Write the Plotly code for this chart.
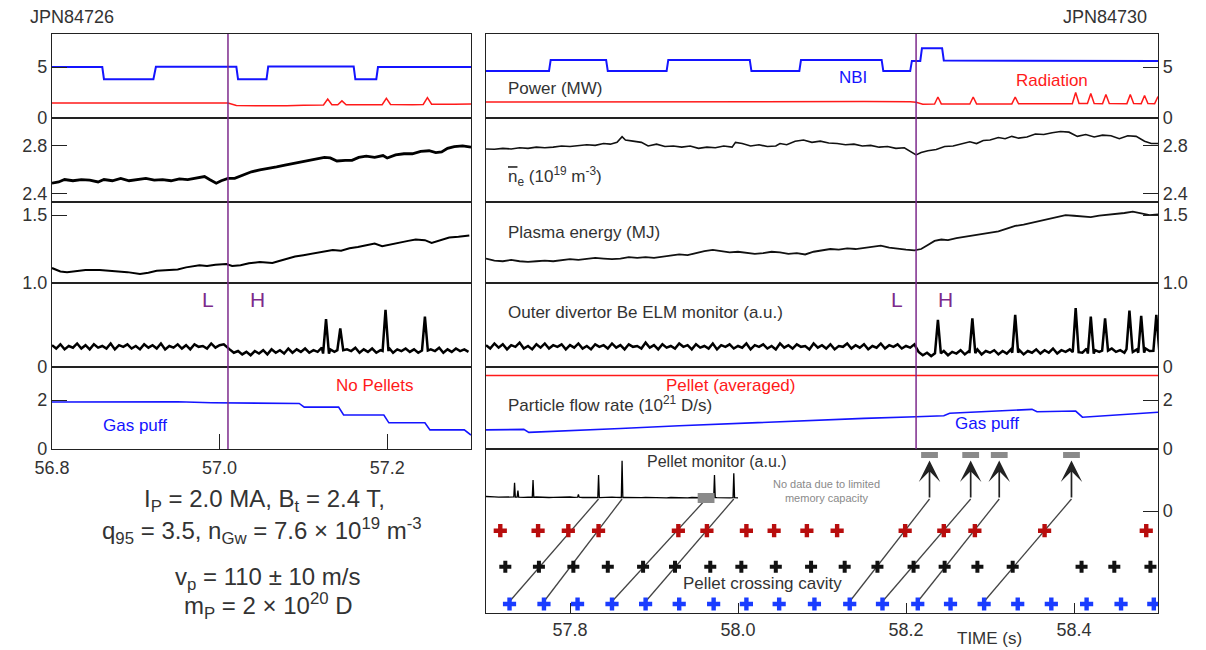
import numpy as np
import plotly.graph_objects as go

FONT = "Liberation Sans, Arial, Helvetica, sans-serif"
INK = "#222222"
TXT = "#333333"
BLUE = "#1414ff"
RED = "#ff1a1a"
PURPLE = "#7d2a8c"
PELLET_RED = "#b80d0d"
PELLET_BLUE = "#1a3cff"
GREY_BOX = "#8a8a8a"

# ------------------------------------------------------------------
# Shot JPN84726 (left column), time in s
# ------------------------------------------------------------------
lh_time_l = 57.01

nbi_l_t = [56.800, 56.860, 56.862, 56.921, 56.924, 57.020, 57.022, 57.056,
           57.058, 57.160, 57.162, 57.187, 57.189, 57.300]
nbi_l_v = [5.0, 5.0, 3.8, 3.8, 5.02, 5.02, 3.8, 3.8, 5.05, 5.05, 3.8, 3.8, 5.0, 5.0]

rad_l_t = [56.800, 56.850, 56.900, 56.950, 57.000, 57.010, 57.020, 57.050, 57.080,
           57.100, 57.124, 57.129, 57.134, 57.141, 57.146, 57.151, 57.180, 57.194,
           57.199, 57.204, 57.230, 57.243, 57.248, 57.253, 57.280, 57.300]
rad_l_v = [1.47, 1.45, 1.47, 1.46, 1.48, 1.47, 1.22, 1.18, 1.20, 1.24, 1.27, 1.85,
           1.30, 1.29, 1.68, 1.29, 1.28, 1.31, 1.92, 1.33, 1.31, 1.33, 2.00, 1.35,
           1.36, 1.37]

ne_l_t = [56.800, 56.808, 56.815, 56.825, 56.835, 56.845, 56.855, 56.862, 56.872,
          56.882, 56.892, 56.902, 56.912, 56.922, 56.932, 56.942, 56.952, 56.962,
          56.972, 56.982, 56.988, 56.996, 57.002, 57.010, 57.018, 57.028, 57.038,
          57.048, 57.058, 57.068, 57.078, 57.088, 57.098, 57.108, 57.118, 57.125,
          57.132, 57.140, 57.150, 57.158, 57.166, 57.175, 57.185, 57.195, 57.200,
          57.210, 57.220, 57.230, 57.240, 57.250, 57.258, 57.265, 57.272, 57.280,
          57.290, 57.300]
ne_l_v = [2.49, 2.50, 2.52, 2.51, 2.52, 2.515, 2.50, 2.52, 2.51, 2.53, 2.51, 2.52,
          2.53, 2.515, 2.52, 2.51, 2.525, 2.52, 2.53, 2.545, 2.52, 2.49, 2.51, 2.53,
          2.53, 2.56, 2.585, 2.60, 2.61, 2.625, 2.64, 2.655, 2.665, 2.68, 2.695,
          2.705, 2.70, 2.675, 2.68, 2.68, 2.705, 2.715, 2.705, 2.72, 2.70, 2.725,
          2.735, 2.735, 2.755, 2.76, 2.745, 2.75, 2.78, 2.795, 2.80, 2.79]

wp_l_t = [56.800, 56.810, 56.818, 56.830, 56.840, 56.857, 56.870, 56.880, 56.890,
          56.905, 56.915, 56.925, 56.937, 56.950, 56.960, 56.970, 56.976, 56.985,
          56.995, 57.008, 57.015, 57.025, 57.035, 57.048, 57.058, 57.063, 57.070,
          57.080, 57.090, 57.100, 57.110, 57.120, 57.135, 57.145, 57.155, 57.165,
          57.175, 57.185, 57.194, 57.205, 57.215, 57.225, 57.234, 57.245, 57.253,
          57.262, 57.274, 57.285, 57.298]
wp_l_v = [1.11, 1.085, 1.08, 1.09, 1.095, 1.096, 1.09, 1.085, 1.08, 1.066, 1.075,
          1.09, 1.096, 1.10, 1.115, 1.125, 1.13, 1.125, 1.135, 1.14, 1.125, 1.13,
          1.145, 1.155, 1.15, 1.147, 1.16, 1.18, 1.195, 1.205, 1.215, 1.225, 1.243,
          1.238, 1.255, 1.265, 1.28, 1.29, 1.27, 1.285, 1.30, 1.31, 1.32, 1.315,
          1.295, 1.31, 1.335, 1.34, 1.35]

# Be ELM monitor: sampled every 5 ms, L-mode part and H-mode part
elm_dt = 0.005
elm_l_t0_pre, elm_l_t0_post = 56.800, 57.012
elm_l_pre = [0.26, 0.22, 0.27, 0.21, 0.25, 0.23, 0.28, 0.22, 0.26, 0.21,
             0.27, 0.23, 0.25, 0.22, 0.28, 0.21, 0.26, 0.24, 0.27, 0.22,
             0.25, 0.21, 0.27, 0.23, 0.26, 0.22, 0.28, 0.21, 0.25, 0.23,
             0.27, 0.22, 0.26, 0.21, 0.27, 0.24, 0.25, 0.22, 0.28, 0.23,
             0.26, 0.27]
elm_l_post = [0.21, 0.17, 0.19, 0.15, 0.18, 0.14, 0.19, 0.16, 0.20, 0.15,
              0.21, 0.17, 0.20, 0.16, 0.22, 0.17, 0.21, 0.18, 0.22, 0.17,
              0.20, 0.18, 0.23, 0.16, 0.21, 0.18, 0.22, 0.17, 0.21, 0.19,
              0.23, 0.17, 0.21, 0.18, 0.22, 0.17, 0.20, 0.18, 0.23, 0.17,
              0.21, 0.19, 0.22, 0.18, 0.21, 0.17, 0.22, 0.18, 0.21, 0.19,
              0.23, 0.17, 0.21, 0.18, 0.22, 0.19, 0.21, 0.18]
elm_l_spikes = [(57.127, 0.57), (57.144, 0.46), (57.198, 0.68), (57.245, 0.60)]

gas_l_t = [56.800, 56.850, 56.900, 56.950, 56.990, 57.050, 57.095, 57.101, 57.142,
           57.148, 57.196, 57.202, 57.245, 57.251, 57.292, 57.300]
gas_l_v = [1.92, 1.93, 1.93, 1.93, 1.89, 1.87, 1.86, 1.71, 1.71, 1.39, 1.39, 1.07,
           1.07, 0.78, 0.78, 0.57]

# ------------------------------------------------------------------
# Shot JPN84730 (right column), time in s
# ------------------------------------------------------------------
lh_time_r = 58.212

nbi_r_t = [57.700, 57.775, 57.777, 57.843, 57.845, 57.915, 57.917, 58.014, 58.016,
           58.073, 58.075, 58.171, 58.173, 58.205, 58.207, 58.217, 58.219, 58.243,
           58.245, 58.500]
nbi_r_v = [4.6, 4.6, 5.7, 5.7, 4.6, 4.6, 5.7, 5.7, 4.6, 4.6, 5.7, 5.7, 4.6, 4.6,
           5.6, 5.6, 6.85, 6.85, 5.65, 5.58]

rad_r_t = [57.700, 57.750, 57.800, 57.850, 57.900, 57.950, 58.000, 58.050, 58.100,
           58.150, 58.205, 58.212, 58.220, 58.234, 58.238, 58.242, 58.276, 58.280,
           58.284, 58.326, 58.330, 58.334, 58.398, 58.402, 58.406, 58.416, 58.420,
           58.424, 58.434, 58.438, 58.442, 58.463, 58.467, 58.471, 58.480, 58.484,
           58.488, 58.496, 58.500]
rad_r_v = [1.57, 1.58, 1.57, 1.59, 1.58, 1.60, 1.59, 1.61, 1.60, 1.61, 1.60, 1.55,
           1.36, 1.37, 2.06, 1.38, 1.37, 2.06, 1.38, 1.38, 2.06, 1.39, 1.40, 2.50,
           1.42, 1.42, 2.40, 1.42, 1.41, 2.30, 1.42, 1.41, 2.30, 1.42, 1.41, 2.20,
           1.42, 1.41, 2.10]

ne_r_t = [57.700, 57.710, 57.720, 57.730, 57.740, 57.750, 57.760, 57.770, 57.780,
          57.790, 57.800, 57.810, 57.820, 57.830, 57.840, 57.848, 57.856, 57.862,
          57.866, 57.875, 57.885, 57.893, 57.903, 57.913, 57.923, 57.933, 57.943,
          57.953, 57.963, 57.973, 57.983, 57.993, 57.997, 58.005, 58.015, 58.025,
          58.035, 58.045, 58.050, 58.058, 58.068, 58.078, 58.088, 58.098, 58.108,
          58.118, 58.128, 58.138, 58.148, 58.158, 58.168, 58.178, 58.188, 58.198,
          58.206, 58.212, 58.218, 58.226, 58.236, 58.246, 58.256, 58.266, 58.276,
          58.284, 58.292, 58.300, 58.310, 58.318, 58.326, 58.334, 58.344, 58.354,
          58.364, 58.374, 58.384, 58.394, 58.404, 58.414, 58.424, 58.434, 58.444,
          58.454, 58.464, 58.474, 58.484, 58.492, 58.500]
ne_r_v = [2.775, 2.772, 2.78, 2.775, 2.785, 2.78, 2.79, 2.785, 2.79, 2.80, 2.795,
          2.80, 2.81, 2.805, 2.82, 2.815, 2.83, 2.878, 2.85, 2.84, 2.83, 2.80, 2.815,
          2.795, 2.80, 2.79, 2.80, 2.78, 2.79, 2.785, 2.80, 2.79, 2.83, 2.82, 2.80,
          2.81, 2.795, 2.80, 2.82, 2.81, 2.84, 2.85, 2.83, 2.84, 2.825, 2.82, 2.81,
          2.815, 2.80, 2.805, 2.79, 2.795, 2.78, 2.785, 2.75, 2.725, 2.745, 2.76,
          2.77, 2.795, 2.80, 2.82, 2.835, 2.82, 2.845, 2.85, 2.87, 2.86, 2.88, 2.865,
          2.875, 2.90, 2.895, 2.91, 2.92, 2.915, 2.88, 2.895, 2.875, 2.89, 2.885,
          2.86, 2.885, 2.88, 2.84, 2.82, 2.82]

wp_r_t = [57.700, 57.710, 57.720, 57.730, 57.740, 57.750, 57.760, 57.770, 57.780,
          57.790, 57.800, 57.810, 57.820, 57.830, 57.840, 57.850, 57.860, 57.870,
          57.880, 57.890, 57.900, 57.910, 57.920, 57.930, 57.940, 57.950, 57.960,
          57.970, 57.980, 57.990, 58.000, 58.010, 58.020, 58.030, 58.040, 58.050,
          58.060, 58.070, 58.080, 58.090, 58.100, 58.110, 58.120, 58.130, 58.140,
          58.150, 58.160, 58.170, 58.180, 58.190, 58.200, 58.210, 58.218, 58.226,
          58.234, 58.242, 58.250, 58.260, 58.270, 58.280, 58.290, 58.300, 58.310,
          58.320, 58.330, 58.340, 58.350, 58.360, 58.370, 58.380, 58.390, 58.400,
          58.410, 58.420, 58.430, 58.440, 58.450, 58.460, 58.470, 58.480, 58.490,
          58.500]
wp_r_v = [1.18, 1.165, 1.16, 1.17, 1.16, 1.155, 1.16, 1.165, 1.16, 1.17, 1.175,
          1.17, 1.175, 1.185, 1.18, 1.175, 1.18, 1.19, 1.185, 1.19, 1.185, 1.195,
          1.20, 1.21, 1.205, 1.22, 1.235, 1.243, 1.235, 1.225, 1.23, 1.225, 1.215,
          1.22, 1.23, 1.225, 1.215, 1.22, 1.21, 1.23, 1.24, 1.25, 1.245, 1.255, 1.25,
          1.26, 1.27, 1.275, 1.26, 1.25, 1.245, 1.24, 1.25, 1.28, 1.31, 1.32, 1.315,
          1.33, 1.34, 1.35, 1.36, 1.37, 1.38, 1.40, 1.42, 1.43, 1.445, 1.46, 1.47,
          1.485, 1.50, 1.495, 1.49, 1.485, 1.495, 1.50, 1.51, 1.515, 1.525, 1.51,
          1.50, 1.505]

elm_r_t0_pre, elm_r_t0_post = 57.700, 58.215
elm_r_pre = [0.26, 0.22, 0.28, 0.23, 0.27, 0.21, 0.26, 0.24, 0.29, 0.22,
             0.25, 0.21, 0.27, 0.23, 0.28, 0.22, 0.26, 0.24, 0.27, 0.21,
             0.26, 0.23, 0.28, 0.22, 0.25, 0.21, 0.27, 0.24, 0.26, 0.22,
             0.28, 0.23, 0.26, 0.21, 0.27, 0.24, 0.25, 0.22, 0.29, 0.23,
             0.26, 0.21, 0.27, 0.23, 0.25, 0.22, 0.28, 0.24, 0.26, 0.21,
             0.27, 0.23, 0.25, 0.22, 0.28, 0.21, 0.26, 0.24, 0.27, 0.22,
             0.25, 0.23, 0.28, 0.21, 0.26, 0.24, 0.27, 0.22, 0.25, 0.21,
             0.28, 0.23, 0.26, 0.22, 0.27, 0.24, 0.25, 0.21, 0.28, 0.23,
             0.26, 0.22, 0.27, 0.21, 0.25, 0.24, 0.28, 0.22, 0.26, 0.23,
             0.27, 0.21, 0.25, 0.23, 0.28, 0.22, 0.26, 0.24, 0.27, 0.22,
             0.25, 0.23, 0.27]
elm_r_post = [0.18, 0.14, 0.17, 0.13, 0.18, 0.15, 0.19, 0.14, 0.18, 0.16,
              0.20, 0.15, 0.19, 0.16, 0.21, 0.15, 0.19, 0.17, 0.20, 0.15,
              0.19, 0.16, 0.21, 0.17, 0.20, 0.15, 0.19, 0.17, 0.21, 0.16,
              0.20, 0.17, 0.22, 0.16, 0.20, 0.18, 0.21, 0.16, 0.20, 0.17,
              0.22, 0.16, 0.20, 0.18, 0.21, 0.17, 0.22, 0.18, 0.20, 0.17,
              0.22, 0.18, 0.21, 0.17, 0.22, 0.19, 0.21, 0.18]
elm_r_spikes = [(58.238, 0.56), (58.279, 0.58), (58.330, 0.62), (58.402, 0.70),
                (58.420, 0.60), (58.437, 0.58), (58.466, 0.67), (58.480, 0.61),
                (58.498, 0.62)]

gas_r_t = [57.700, 57.745, 57.751, 57.800, 57.860, 57.930, 58.000, 58.080, 58.150,
           58.212, 58.245, 58.252, 58.300, 58.350, 58.356, 58.390, 58.402, 58.410,
           58.450, 58.500]
gas_r_v = [0.78, 0.80, 0.68, 0.74, 0.84, 0.95, 1.05, 1.18, 1.25, 1.32, 1.36, 1.46,
           1.53, 1.62, 1.52, 1.55, 1.55, 1.30, 1.40, 1.50]

pellet_avg_t = [57.700, 58.500]
pellet_avg_v = [3.0, 3.0]

# Pellet monitor (a.u.), recorded only until memory ran out
mon_t0 = 57.700
mon_dt = 0.005
mon_base = [1.45, 1.40, 1.42, 1.38, 1.40, 1.37, 1.39, 1.41, 1.38, 1.36,
            1.39, 1.37, 1.40, 1.36, 1.38, 1.35, 1.37, 1.39, 1.36, 1.38,
            1.40, 1.36, 1.38, 1.35, 1.37, 1.39, 1.36, 1.34, 1.37, 1.35,
            1.38, 1.36, 1.34, 1.37, 1.35, 1.33, 1.36, 1.34, 1.37, 1.35,
            1.33, 1.36, 1.34, 1.32, 1.35, 1.33, 1.36, 1.34, 1.32, 1.35,
            1.33, 1.31, 1.34, 1.32, 1.35, 1.33, 1.31, 1.34, 1.32, 1.33, 1.31]
mon_spikes = [(57.734, 2.83), (57.738, 2.05), (57.756, 3.10), (57.810, 1.65),
              (57.834, 3.60), (57.862, 5.03), (57.972, 3.60), (57.995, 3.77)]

# Pellet detections at the three cavity stations
det_red_t = [57.717, 57.762, 57.798, 57.834, 57.929, 57.963, 58.010, 58.043, 58.082,
             58.118, 58.199, 58.245, 58.282, 58.365, 58.486]
det_black_t = [57.723, 57.763, 57.804, 57.845, 57.887, 57.925, 57.967, 58.004, 58.045,
               58.087, 58.127, 58.166, 58.209, 58.246, 58.285, 58.327, 58.409, 58.448,
               58.491]
det_blue_t = [57.728, 57.769, 57.809, 57.850, 57.890, 57.930, 57.971, 58.010, 58.049,
              58.091, 58.133, 58.172, 58.214, 58.253, 58.293, 58.333, 58.373, 58.415,
              58.456, 58.495]

# Tracked pellets: cavity crossing time -> arrival time at the monitor
pellet_launch_t = [57.728, 57.769, 57.850, 57.890, 58.133, 58.172, 58.214, 58.293]
pellet_arrive_t = [57.834, 57.862, 57.962, 57.995, 58.228, 58.277, 58.311, 58.397]
monitor_end_t = 58.000
saturated_arrival_t = 57.962

# ------------------------------------------------------------------
# Layout geometry of the pellet panel (a.u. levels of the rows)
# ------------------------------------------------------------------
ROW_RED, ROW_BLACK, ROW_BLUE = -1.97, -5.57, -9.30
PATH_START, PATH_END = -9.05, 1.20
ARROW_TIP = 5.05
BOX_LO, BOX_HI = 5.30, 5.90
BOX_HALF = 0.0100


def with_spikes(t0_pre, pre, t0_post, post, dt, spikes, half):
    t = np.concatenate([t0_pre + dt * np.arange(len(pre)),
                        t0_post + dt * np.arange(len(post))])
    v = np.concatenate([pre, post]).astype(float)
    keep = np.ones(len(t), bool)
    et, ev = [], []
    for ts, pk in spikes:
        base = float(np.interp(ts, t, v))
        keep &= np.abs(t - ts) > half
        et += [ts - half, ts, ts + half]
        ev += [base, pk, base]
    tt = np.concatenate([t[keep], et])
    vv = np.concatenate([v[keep], ev])
    order = np.argsort(tt)
    return tt[order], vv[order]


elm_l_t, elm_l_v = with_spikes(elm_l_t0_pre, elm_l_pre, elm_l_t0_post, elm_l_post,
                               elm_dt, elm_l_spikes, 0.0035)
elm_r_t, elm_r_v = with_spikes(elm_r_t0_pre, elm_r_pre, elm_r_t0_post, elm_r_post,
                               elm_dt, elm_r_spikes, 0.0035)
mon_t, mon_v = with_spikes(mon_t0, mon_base, mon_t0 + mon_dt * len(mon_base), [],
                           mon_dt, mon_spikes, 0.0009)

# ------------------------------------------------------------------
# Figure geometry (pixels -> paper)
# ------------------------------------------------------------------
W, H = 1206, 650


def px_x(p):
    return p / W


def px_y(p):
    return 1 - p / H


col_l = [px_x(52), px_x(471)]
col_r = [px_x(486), px_x(1158)]
rows = [(34, 118), (118, 202), (202, 283), (283, 367), (367, 449), (449, 613)]

y_specs = [
    dict(range=[0, 8.24], tickvals=[0, 5], ticktext=["0", "5"]),
    dict(range=[2.333, 3.033], tickvals=[2.4, 2.8], ticktext=["2.4", "2.8"]),
    dict(range=[1.0, 1.596], tickvals=[1.0, 1.5], ticktext=["1.0", "1.5"]),
    dict(range=[0, 1], tickvals=[0], ticktext=["0"]),
    dict(range=[0, 3.35], tickvals=[0, 2], ticktext=["0", "2"]),
    dict(range=[-10.2, 6.2], tickvals=[0], ticktext=["0"]),
]

fig = go.Figure()
layout = dict(width=W, height=H, margin=dict(l=0, r=0, t=0, b=0, autoexpand=False),
              paper_bgcolor="white", plot_bgcolor="white", showlegend=False,
              font=dict(family=FONT, size=18, color=TXT))

tick_font = dict(family=FONT, size=18, color=TXT)

panels = []  # (axis index, column, row)
for r in range(5):
    panels.append((r + 1, "l", r))
for r in range(6):
    panels.append((r + 6, "r", r))

for idx, col, r in panels:
    sx = "" if idx == 1 else str(idx)
    top, bot = rows[r]
    spec = y_specs[r]
    is_bottom = (col == "l" and r == 4) or (col == "r" and r == 5)
    xr = [56.8, 57.3] if col == "l" else [57.7, 58.5]
    xa = dict(domain=col_l if col == "l" else col_r, range=xr, anchor="y" + sx,
              showline=True, linecolor=INK, linewidth=1.4, mirror=True,
              showgrid=False, zeroline=False, fixedrange=True, automargin=False)
    if is_bottom:
        if col == "l":
            xa.update(tickvals=[56.8, 57.0, 57.2], ticktext=["56.8", "57.0", "57.2"],
                      ticks="inside", ticklen=15, ticklabelstandoff=2)
        else:
            xa.update(tickvals=[57.8, 58.0, 58.2, 58.4],
                      ticktext=["57.8", "58.0", "58.2", "58.4"],
                      ticks="inside", ticklen=10)
        xa.update(tickwidth=1.4, tickcolor=INK, tickfont=tick_font, showticklabels=True)
    else:
        xa.update(showticklabels=False, ticks="")
    ya = dict(domain=[px_y(bot), px_y(top)], range=spec["range"], anchor="x" + sx,
              side="left" if col == "l" else "right",
              tickvals=spec["tickvals"], ticktext=spec["ticktext"],
              ticks="inside", ticklen=15, tickwidth=1.4, tickcolor=INK,
              tickfont=tick_font, showline=True, linecolor=INK, linewidth=1.4,
              mirror=True, showgrid=False, zeroline=False, fixedrange=True,
              automargin=False)
    layout["xaxis" + sx] = xa
    layout["yaxis" + sx] = ya


def line(t, v, ax, color, width):
    sx = "" if ax == 1 else str(ax)
    fig.add_trace(go.Scatter(x=t, y=v, mode="lines", xaxis="x" + sx, yaxis="y" + sx,
                             line=dict(color=color, width=width), hoverinfo="skip"))


# left column
line(nbi_l_t, nbi_l_v, 1, BLUE, 2.0)
line(rad_l_t, rad_l_v, 1, RED, 1.5)
line(ne_l_t, ne_l_v, 2, "black", 2.8)
line(wp_l_t, wp_l_v, 3, "black", 2.0)
line(elm_l_t, elm_l_v, 4, "black", 2.5)
line(gas_l_t, gas_l_v, 5, BLUE, 1.6)

# right column
line(nbi_r_t, nbi_r_v, 6, BLUE, 2.0)
line(rad_r_t, rad_r_v, 6, RED, 1.5)
line(ne_r_t, ne_r_v, 7, "#111111", 1.6)
line(wp_r_t, wp_r_v, 8, "#111111", 1.8)
line(elm_r_t, elm_r_v, 9, "black", 2.5)
line(pellet_avg_t, pellet_avg_v, 10, RED, 1.6)
line(gas_r_t, gas_r_v, 10, BLUE, 1.6)

# pellet panel: monitor trace
line(mon_t, mon_v, 11, "black", 1.3)

# pellet flight paths from the cavity to the monitor
path_x, path_y = [], []
for t0, t1 in zip(pellet_launch_t, pellet_arrive_t):
    path_x += [t0, t1, None]
    path_y += [PATH_START, PATH_END, None]
fig.add_trace(go.Scatter(x=path_x, y=path_y, mode="lines", xaxis="x11", yaxis="y11",
                         line=dict(color="#444444", width=1.3), hoverinfo="skip"))

# detector rows
for times, level, color, size in [(det_red_t, ROW_RED, PELLET_RED, 11),
                                  (det_black_t, ROW_BLACK, "#111111", 10),
                                  (det_blue_t, ROW_BLUE, PELLET_BLUE, 11)]:
    fig.add_trace(go.Scatter(x=times, y=[level] * len(times), mode="markers",
                             xaxis="x11", yaxis="y11", hoverinfo="skip",
                             marker=dict(symbol="cross", size=size, color=color,
                                         line=dict(width=0))))

shapes = []
# L-H transition markers
for tl, xr in [(lh_time_l, "x"), (lh_time_r, "x6")]:
    shapes.append(dict(type="line", xref=xr, yref="paper", x0=tl, x1=tl,
                       y0=px_y(449), y1=px_y(34),
                       line=dict(color=PURPLE, width=1.5), layer="above"))
# grey boxes: pellet arrivals (on the trace where recorded, at the top otherwise)
for t1 in pellet_arrive_t:
    if t1 > monitor_end_t:
        y0, y1 = BOX_LO, BOX_HI
    elif abs(t1 - saturated_arrival_t) < 1e-6:
        y0, y1 = 0.8, 1.8
    else:
        continue
    shapes.append(dict(type="rect", xref="x11", yref="y11", x0=t1 - BOX_HALF,
                       x1=t1 + BOX_HALF, y0=y0, y1=y1, fillcolor=GREY_BOX,
                       line=dict(width=0), layer="above"))
layout["shapes"] = shapes


def label(text, x, y, size=18, color=TXT, xanchor="left", xref="paper", yref="paper"):
    return dict(text=text, x=x, y=y, xref=xref, yref=yref, showarrow=False,
                xanchor=xanchor, yanchor="middle",
                font=dict(family=FONT, size=size, color=color))


ann = [
    label("JPN84726", px_x(28), px_y(17)),
    label("JPN84730", px_x(1149), px_y(17), xanchor="right"),
    label("Power (MW)", px_x(506), px_y(88), size=17),
    label("NBI", px_x(853), px_y(77), size=17, color=BLUE, xanchor="center"),
    label("Radiation", px_x(1052), px_y(80), size=17, color=RED, xanchor="center"),
    label("<span style='text-decoration:overline'>n</span><sub>e</sub> "
          "(10<sup>19</sup> m<sup>-3</sup>)", px_x(506), px_y(176), size=17),
    label("Plasma energy (MJ)", px_x(506), px_y(233), size=17),
    label("Outer divertor Be ELM monitor (a.u.)", px_x(506), px_y(313), size=17),
    label("Pellet (averaged)", px_x(730), px_y(386), size=17, color=RED, xanchor="center"),
    label("Particle flow rate (10<sup>21</sup> D/s)", px_x(506), px_y(404), size=17),
    label("Gas puff", px_x(987), px_y(424), size=17, color=BLUE, xanchor="center"),
    label("No Pellets", px_x(375), px_y(386), size=17, color=RED, xanchor="center"),
    label("Gas puff", px_x(135), px_y(425), size=17, color=BLUE, xanchor="center"),
    label("L", lh_time_l - 0.024, 0.80, size=21, color=PURPLE, xanchor="center",
          xref="x4", yref="y4"),
    label("H", lh_time_l + 0.035, 0.80, size=21, color=PURPLE, xanchor="center",
          xref="x4", yref="y4"),
    label("L", lh_time_r - 0.023, 0.80, size=21, color=PURPLE, xanchor="center",
          xref="x9", yref="y9"),
    label("H", lh_time_r + 0.035, 0.80, size=21, color=PURPLE, xanchor="center",
          xref="x9", yref="y9"),
    label("Pellet monitor (a.u.)", px_x(717), px_y(461), size=16, xanchor="center"),
    label("No data due to limited<br>memory capacity", px_x(826), px_y(491), size=11,
          color="#8a8a8a", xanchor="center"),
    label("Pellet crossing cavity", px_x(763), px_y(583), size=17, xanchor="center"),
    label("TIME (s)", px_x(989), px_y(638), size=17, xanchor="center"),
    label("I<sub>P</sub> = 2.0 MA, B<sub>t</sub> = 2.4 T,", px_x(264), px_y(500),
          size=24, xanchor="center"),
    label("q<sub>95</sub> = 3.5, n<sub>Gw</sub> = 7.6 × 10<sup>19</sup> m<sup>-3</sup>",
          px_x(262), px_y(531), size=24, xanchor="center"),
    label("v<sub>p</sub> = 110 ± 10 m/s", px_x(268), px_y(578), size=24,
          xanchor="center"),
    label("m<sub>P</sub> = 2 × 10<sup>20</sup> D", px_x(268), px_y(606), size=24,
          xanchor="center"),
]

# arrows continuing the flight paths of pellets that arrived after the
# monitor stopped recording
for t1 in pellet_arrive_t:
    if t1 > monitor_end_t:
        ann.append(dict(x=t1, y=ARROW_TIP, ax=t1, ay=PATH_END, xref="x11", yref="y11",
                        axref="x11", ayref="y11", text="", showarrow=True,
                        arrowhead=3, arrowsize=2.1, arrowwidth=1.7,
                        arrowcolor="#222222", standoff=0, startstandoff=0))
layout["annotations"] = ann

fig.update_layout(**layout)
fig.write_html("out.html")
